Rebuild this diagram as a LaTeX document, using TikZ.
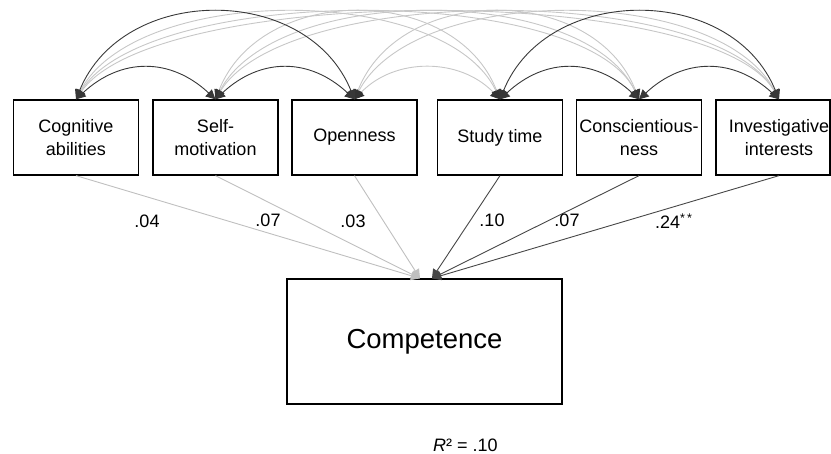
\documentclass[tikz,border=0pt]{standalone}
\usepackage{fontspec}
\setmainfont{Liberation Sans}
\usetikzlibrary{arrows.meta}

\begin{document}
\begin{tikzpicture}[x=1pt,y=-1pt,
  txt/.style={font=\fontsize{18}{22.5}\selectfont, align=center, inner sep=0pt},
  box/.style={txt, draw=black, line width=1.3pt, minimum width=125pt, minimum height=75pt},
  covdark/.style={draw=black!78, line width=0.9pt, {Triangle[length=9.5pt,width=9.5pt]}-{Triangle[length=9.5pt,width=9.5pt]}},
  covlight/.style={draw=black!22, line width=0.9pt, {Triangle[length=9.5pt,width=9.5pt,color=black!80]}-{Triangle[length=9.5pt,width=9.5pt,color=black!80]}},
  pathdark/.style={draw=black!72, line width=0.9pt, -{Triangle[length=9pt,width=9pt]}},
  pathlight/.style={draw=black!25, line width=0.9pt, -{Triangle[length=9pt,width=9pt]}},
  coef/.style={font=\fontsize{18}{22}\selectfont, inner sep=0pt}
]
\useasboundingbox (0,0) rectangle (831,454);

% observed predictors
\node[box] (cog)   at (76,137.5)  {Cognitive\\abilities};
\node[box] (self)  at (215.5,137.5) {Self-\\motivation};
\node[box] (open)  at (354.5,137.5) {Openness};
\node[box] (study) at (500,137.5) {Study time};
\node[box] (consc) at (639,137.5) {Conscientious-\\ness};
\node[box, minimum width=114pt] (inv) at (773,137.5) {};
\node[txt] (invtext) at (779,137.5) {Investigative\\interests};
\coordinate (invtop) at ([xshift=6pt]inv.north);
\coordinate (invbot) at ([xshift=6pt]inv.south);

% outcome
\node[draw=black, line width=1.3pt, minimum width=275pt, minimum height=125pt,
      font=\fontsize{27.5}{30}\selectfont, inner sep=0pt] (comp) at (424.5,341.5) {Competence};
\coordinate (gin) at ([xshift=-4.5pt]comp.north);
\coordinate (bin) at ([xshift=7.5pt]comp.north);

\node[txt] (rsq) at (465.5,445) {\textit{R}² = .10};

% covariances between the two predictor blocks
\draw[covlight] (open.north)  .. controls +(40,-42)  and +(-40,-42)  .. (study.north);
\draw[covlight] (cog.north)   .. controls +(60,-116) and +(-55,-116) .. (study.north);
\draw[covlight] (cog.north)   .. controls +(70,-116) and +(-55,-116) .. (consc.north);
\draw[covlight] (cog.north)   .. controls +(80,-116) and +(-65,-116) .. (invtop);
\draw[covlight] (self.north)  .. controls +(45,-116) and +(-45,-116) .. (study.north);
\draw[covlight] (self.north)  .. controls +(60,-116) and +(-55,-116) .. (consc.north);
\draw[covlight] (self.north)  .. controls +(70,-116) and +(-65,-116) .. (invtop);
\draw[covlight] (open.north)  .. controls +(45,-116) and +(-45,-116) .. (consc.north);
\draw[covlight] (open.north)  .. controls +(60,-116) and +(-60,-116) .. (invtop);

% covariances within each block
\draw[covdark] (cog.north)   .. controls +(45,-42)  and +(-45,-42)  .. (self.north);
\draw[covdark] (self.north)  .. controls +(45,-42)  and +(-45,-42)  .. (open.north);
\draw[covdark] (cog.north)   .. controls +(47,-116) and +(-47,-116) .. (open.north);
\draw[covdark] (study.north) .. controls +(45,-42)  and +(-45,-42)  .. (consc.north);
\draw[covdark] (consc.north) .. controls +(45,-42)  and +(-45,-42)  .. (invtop);
\draw[covdark] (study.north) .. controls +(47,-116) and +(-47,-116) .. (invtop);

% regression paths
\draw[pathlight] (cog.south)  -- (gin);
\draw[pathlight] (self.south) -- (gin);
\draw[pathlight] (open.south) -- (gin);
\draw[pathdark] (study.south) -- (bin);
\draw[pathdark] (consc.south) -- (bin);
\draw[pathdark] (invbot) -- (bin);

% path coefficients
\node[coef] (c1) at (147,221) {.04};
\node[coef] (c2) at (268,220) {.07};
\node[coef] (c3) at (353,221) {.03};
\node[coef] (c4) at (492,220) {.10};
\node[coef] (c5) at (567,220) {.07};
\node[coef, anchor=west] (c6) at (655,221) {.24\textsuperscript{*\,*}};
\end{tikzpicture}
\end{document}
